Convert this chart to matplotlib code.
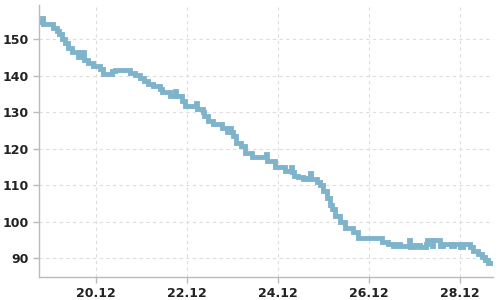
#!/usr/bin/env python3
"""Step-like time series, Dec 18 - Dec 28, values drifting from ~155 to ~89."""

import numpy as np
import matplotlib
matplotlib.use("Agg")
import matplotlib.pyplot as plt
import matplotlib.dates as mdates

START = np.datetime64("2023-12-18T00:00")

# hours since START
hours = [
    18.3, 19.4, 19.9, 25.2, 27.3, 28.3, 29.9, 31.5, 33.1, 35.2,
    38.3, 40.5, 41.5, 43.6, 46.3, 50.0, 51.5, 56.3, 57.9, 65.8,
    68.4, 71.1, 73.2, 75.3, 77.9, 81.6, 82.7, 86.9, 89.5, 90.0,
    93.2, 94.8, 100.6, 101.1, 104.3, 104.8, 106.9, 109.6, 114.3, 116.9,
    118.5, 119.1, 120.1, 121.7, 124.3, 126.4, 130.1, 137.5, 138.0, 142.3,
    147.5, 150.7, 151.2, 152.3, 154.4, 157.0, 159.1, 160.7, 161.3, 164.4,
    166.0, 167.6, 169.7, 171.3, 172.3, 173.9, 176.5, 179.2, 183.4, 186.0,
    190.8, 198.7, 201.9, 204.5, 206.0, 208.2, 212.9, 213.5, 216.1, 219.0,
    221.9, 222.4, 225.1, 225.6, 229.5, 231.0, 235.0, 236.5, 239.8, 241.4,
    245.1, 246.7, 249.3, 251.5, 253.0, 254.6, 256.7,
]
values = [
    154.7, 155.8, 154.2, 153.0, 152.2, 151.4, 150.1, 149.1, 147.5, 146.5,
    145.2, 146.4, 144.3, 143.6, 142.6, 141.9, 140.5, 141.2, 141.6, 140.8,
    140.1, 139.3, 138.5, 137.7, 137.1, 136.5, 135.6, 134.5, 135.8, 134.5,
    133.1, 131.7, 132.5, 130.9, 130.2, 128.9, 127.6, 126.7, 125.7, 124.7,
    125.8, 124.7, 123.5, 121.7, 120.7, 118.8, 117.8, 118.5, 116.7, 115.0,
    114.0, 115.0, 113.6, 112.6, 112.4, 111.7, 112.1, 113.3, 111.8, 110.8,
    110.0, 108.5, 106.4, 104.5, 103.5, 101.7, 100.0, 98.4, 97.1, 95.5,
    95.7, 94.5, 93.9, 93.3, 93.9, 93.4, 95.0, 93.1, 93.7, 93.2,
    93.8, 95.0, 93.4, 95.0, 93.4, 93.9, 93.3, 93.8, 93.2, 94.0,
    93.0, 92.1, 91.2, 90.3, 89.6, 88.6, 88.6,
]
x_range_hours = [17.5, 257.25]
y_range = [84.9, 159.4]
y_ticks = [90, 100, 110, 120, 130, 140, 150]


def to_dates(h):
    return START + (np.array(h) * 60).astype("timedelta64[m]")


fig = plt.figure(figsize=(5, 3), dpi=100)
ax = fig.add_axes([0.077, 0.0767, 0.909, 0.9066])

ax.plot(to_dates(hours), values, drawstyle="steps-post",
        color="#7eb3cc", linewidth=3.5, solid_joinstyle="miter")

ax.set_xlim(to_dates(x_range_hours))
ax.set_ylim(y_range)
ax.set_yticks(y_ticks)
ax.xaxis.set_major_locator(mdates.DayLocator(bymonthday=range(2, 32, 2)))
ax.xaxis.set_major_formatter(mdates.DateFormatter("%d.%m"))

for side in ("top", "right"):
    ax.spines[side].set_visible(False)
for side in ("left", "bottom"):
    ax.spines[side].set_color("#bbbbbb")
    ax.spines[side].set_linewidth(1.0)

ax.tick_params(colors="#bbbbbb", length=4, width=1, labelcolor="#222222",
               labelsize=9, pad=3)
for lbl in ax.get_xticklabels() + ax.get_yticklabels():
    lbl.set_fontweight("bold")

ax.grid(True, color="#dddddd", linestyle=(0, (3, 3)), linewidth=0.8)
ax.set_axisbelow(True)

fig.savefig("out.png", dpi=100)
